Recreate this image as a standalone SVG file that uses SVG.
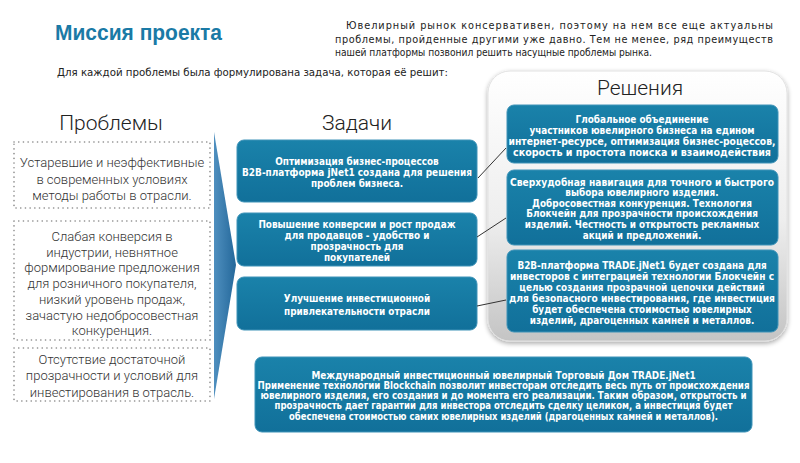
<svg xmlns="http://www.w3.org/2000/svg" width="800" height="463" viewBox="0 0 800 463">
<defs>
<style>
.title{font-family:"Liberation Sans",Arial,sans-serif;font-weight:bold;font-size:22px;fill:#1a7aa6}
.para{font-family:"DejaVu Sans Condensed","DejaVu Sans",Verdana,sans-serif;font-size:10.8px;fill:#222}
.head{font-family:Roboto,"Liberation Sans",sans-serif;font-weight:300;font-size:21px;fill:#222;text-anchor:middle}
.prob{font-family:Roboto,"Liberation Sans",sans-serif;font-weight:300;font-size:13px;fill:#333;text-anchor:middle}
.box{font-family:"DejaVu Sans Condensed","DejaVu Sans",Verdana,sans-serif;font-weight:bold;font-size:9.9px;fill:#fff;text-anchor:middle}
.dot{fill:#fff;stroke:#8a8a8a;stroke-width:1.6;stroke-linecap:round;stroke-dasharray:0.1 4.6}
.blue{fill:url(#bg);stroke:#3e93b8;stroke-width:1}
.conn{stroke:#333;stroke-width:1;fill:none}
</style>
<linearGradient id="bg" x1="0" y1="0" x2="0" y2="1">
<stop offset="0" stop-color="#1a82aa"/>
<stop offset="1" stop-color="#11709a"/>
</linearGradient>
<linearGradient id="pg" x1="0" y1="0" x2="0" y2="1">
<stop offset="0" stop-color="#ffffff"/>
<stop offset="0.55" stop-color="#eeeeee"/>
<stop offset="1" stop-color="#c4c4c4"/>
</linearGradient>
<linearGradient id="ag" x1="0" y1="0" x2="1" y2="0">
<stop offset="0" stop-color="#4f8fbf"/>
<stop offset="1" stop-color="#24689a"/>
</linearGradient>
<filter id="sh" x="-10%" y="-10%" width="120%" height="120%">
<feGaussianBlur in="SourceAlpha" stdDeviation="2.5"/>
<feOffset dx="0" dy="2" result="b"/>
<feComponentTransfer><feFuncA type="linear" slope="0.35"/></feComponentTransfer>
<feMerge><feMergeNode/><feMergeNode in="SourceGraphic"/></feMerge>
</filter>
</defs>
<rect width="800" height="463" fill="#fff"/>

<g id="header">
<text class="title" x="55" y="40" textLength="167" lengthAdjust="spacingAndGlyphs">Миссия проекта</text>
<text class="para" x="346" y="29" textLength="427" lengthAdjust="spacing">Ювелирный рынок консервативен, поэтому на нем все еще актуальны</text>
<text class="para" x="335" y="43" textLength="438" lengthAdjust="spacing">проблемы, пройденные другими уже давно. Тем не менее, ряд преимуществ</text>
<text class="para" x="335" y="56" textLength="317" lengthAdjust="spacingAndGlyphs">нашей платформы позвонил решить насущные проблемы рынка.</text>
<text class="para" x="57" y="76" textLength="391" lengthAdjust="spacingAndGlyphs">Для каждой проблемы была формулирована задача, которая её решит:</text>
</g>

<g id="solutions-panel">
<rect x="488" y="71" width="299" height="270" rx="22" fill="url(#pg)" stroke="#e2e2e2" stroke-width="1" filter="url(#sh)"/>
<text class="head" x="640" y="95">Решения</text>
</g>

<g id="headings">
<text class="head" x="111" y="130">Проблемы</text>
<text class="head" x="357" y="130">Задачи</text>
</g>

<g id="arrow">
<polygon points="214,132 236,265 214,399" fill="url(#ag)"/>
</g>

<g id="problem1">
<rect class="dot" x="14" y="142" width="196" height="66"/>
<text class="prob" y="167"><tspan x="112">Устаревшие и неэффективные</tspan><tspan x="112" dy="16.5">в современных условиях</tspan><tspan x="112" dy="16.5">методы работы в отрасли.</tspan></text>
</g>
<g id="problem2">
<rect class="dot" x="14" y="221" width="196" height="119"/>
<text class="prob" y="241"><tspan x="112">Слабая конверсия в</tspan><tspan x="112" dy="15.7">индустрии, невнятное</tspan><tspan x="112" dy="15.7">формирование предложения</tspan><tspan x="112" dy="15.7">для розничного покупателя,</tspan><tspan x="112" dy="15.7">низкий уровень продаж,</tspan><tspan x="112" dy="15.7">зачастую недобросовестная</tspan><tspan x="112" dy="15.7">конкуренция.</tspan></text>
</g>
<g id="problem3">
<rect class="dot" x="14" y="348" width="196" height="53"/>
<text class="prob" y="364"><tspan x="112">Отсутствие достаточной</tspan><tspan x="112" dy="16.3">прозрачности и условий для</tspan><tspan x="112" dy="16.3">инвестирования в отрасль.</tspan></text>
</g>

<g id="task1">
<rect class="blue" x="237" y="140" width="240" height="62" rx="7"/>
<text class="box" y="164.5"><tspan x="357">Оптимизация бизнес-процессов</tspan><tspan x="357" dy="11" textLength="230" lengthAdjust="spacingAndGlyphs">B2B-платформа jNet1 создана для решения</tspan><tspan x="357" dy="11">проблем бизнеса.</tspan></text>
</g>
<g id="task2">
<rect class="blue" x="237" y="213" width="240" height="53" rx="7"/>
<text class="box" y="227.5"><tspan x="357">Повышение конверсии и рост продаж</tspan><tspan x="357" dy="11">для продавцов - удобство и</tspan><tspan x="357" dy="11">прозрачность для</tspan><tspan x="357" dy="11.5">покупателей</tspan></text>
</g>
<g id="task3">
<rect class="blue" x="237" y="277" width="240" height="53" rx="7"/>
<text class="box" y="301.5"><tspan x="357">Улучшение инвестиционной</tspan><tspan x="357" dy="13">привлекательности отрасли</tspan></text>
</g>

<g id="solution1">
<rect class="blue" x="507" y="105" width="271" height="58" rx="7"/>
<text class="box" y="122.5"><tspan x="642">Глобальное объединение</tspan><tspan x="642" dy="11">участников ювелирного бизнеса на едином</tspan><tspan x="642" dy="11" textLength="267" lengthAdjust="spacingAndGlyphs">интернет-ресурсе, оптимизация бизнес-роцессов,</tspan><tspan x="642" dy="11" textLength="258" lengthAdjust="spacingAndGlyphs">скорость и простота поиска и взаимодействия</tspan></text>
</g>
<g id="solution2">
<rect class="blue" x="507" y="170" width="271" height="75" rx="7"/>
<text class="box" y="185.5"><tspan x="642" textLength="264" lengthAdjust="spacingAndGlyphs">Сверхудобная навигация для точного и быстрого</tspan><tspan x="642" dy="10.6">выбора ювелирного изделия.</tspan><tspan x="642" dy="10.6">Добросовестная конкуренция. Технология</tspan><tspan x="642" dy="10.6">Блокчейн для прозрачности происхождения</tspan><tspan x="642" dy="10.6">изделий. Честность и открытость рекламных</tspan><tspan x="642" dy="10.6">акций и предложений.</tspan></text>
</g>
<g id="solution3">
<rect class="blue" x="507" y="250" width="271" height="82" rx="7"/>
<text class="box" y="268.5"><tspan x="642">B2B-платформа TRADE.jNet1 будет создана для</tspan><tspan x="642" dy="11" textLength="264" lengthAdjust="spacingAndGlyphs">инвесторов с интеграцией технологии Блокчейн с</tspan><tspan x="642" dy="11">целью создания прозрачной цепочки действий</tspan><tspan x="642" dy="11" textLength="266" lengthAdjust="spacingAndGlyphs">для безопасного инвестирования, где инвестиция</tspan><tspan x="642" dy="11">будет обеспечена стоимостью ювелирных</tspan><tspan x="642" dy="11">изделий, драгоценных камней и металлов.</tspan></text>
</g>

<g id="bottom">
<rect class="blue" x="255" y="357" width="497" height="75" rx="7"/>
<text class="box" y="378.5"><tspan x="503.5">Международный инвестиционный ювелирный Торговый Дом TRADE.jNet1</tspan><tspan x="503.5" dy="10.3" textLength="492" lengthAdjust="spacingAndGlyphs">Применение технологии Blockchain позволит инвесторам отследить весь путь от происхождения</tspan><tspan x="503.5" dy="10.3" textLength="486" lengthAdjust="spacingAndGlyphs">ювелирного изделия, его создания и до момента его реализации. Таким образом, открытость и</tspan><tspan x="503.5" dy="10.3" textLength="458" lengthAdjust="spacingAndGlyphs">прозрачность дает гарантии для инвестора отследить сделку целиком, а инвестиция будет</tspan><tspan x="503.5" dy="10.3" textLength="429" lengthAdjust="spacingAndGlyphs">обеспечена стоимостью самих ювелирных изделий (драгоценных камней и металлов).</tspan></text>
</g>

<g id="connectors">
<line class="conn" x1="478" y1="178" x2="506" y2="148"/>
<line class="conn" x1="477" y1="237" x2="506" y2="218"/>
<line class="conn" x1="477" y1="306" x2="506" y2="300"/>
</g>
</svg>
